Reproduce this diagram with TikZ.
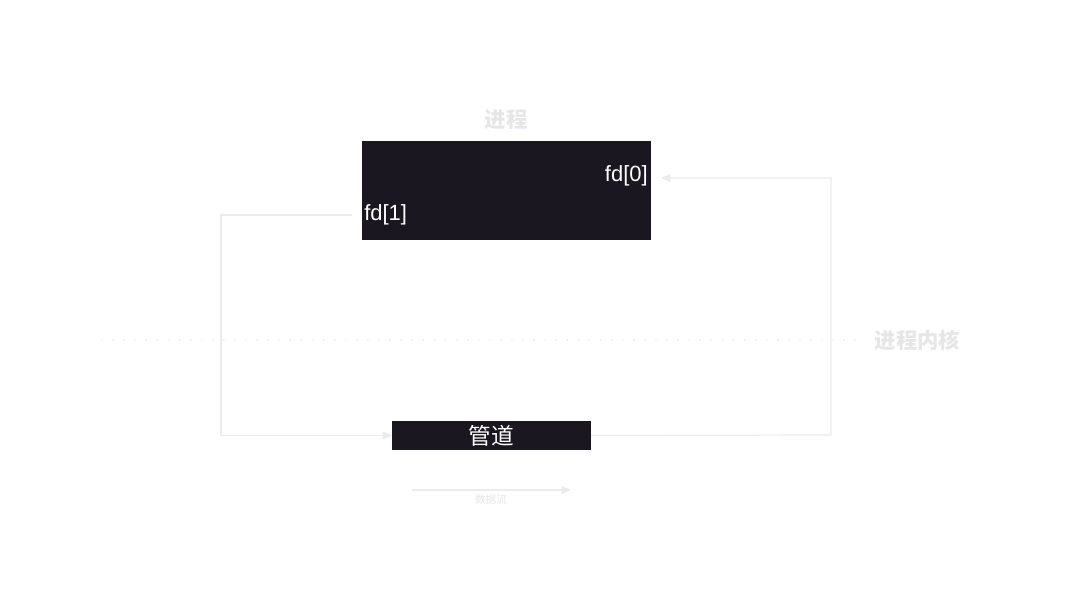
\documentclass[tikz,border=0pt]{standalone}
\usepackage{fontspec}
\setmainfont{Liberation Sans}
\newfontfamily\cjk{Noto Sans CJK SC}
\usetikzlibrary{arrows.meta}
\definecolor{boxdark}{HTML}{1A1720}
\definecolor{faint}{HTML}{EBEBEB}
\definecolor{faintText}{HTML}{E6E6E6}

\tikzset{
  flow/.style={draw=faint, line width=0.9pt, -{Triangle[length=7pt,width=6pt]}},
  fdlabel/.style={text=white, font=\fontsize{16.5}{18}\selectfont, inner sep=1.5pt},
}

\begin{document}
\begin{tikzpicture}[x=0.75pt, y=-0.75pt]
        \useasboundingbox (0,0) rectangle (1072,616);

        % process and pipe
        \node[fill=boxdark, minimum width=217pt, minimum height=74pt, inner sep=0pt] (proc) at (506.5,190.5) {};
        \node[fill=boxdark, minimum width=149pt, minimum height=22pt, inner sep=0pt,
              text=white, font=\cjk\fontsize{17}{18}\selectfont] (pipe) at (491.5,435.5) {管道};
        \node[text=faintText, font=\cjk\bfseries\fontsize{16}{18}\selectfont] (proctitle) at (506,120) {进程};

        \node[fdlabel, anchor=east] (fdzero) at (650,176) {fd[0]};
        \node[fdlabel, anchor=west] (fdone) at (362,215) {fd[1]};

        % kernel boundary
        \coordinate (kl) at (102,340);
        \coordinate (kr) at (866,340);
        \draw[faint, line width=1.3pt, dash pattern=on 0.01pt off 8.3pt, line cap=round] (kl) -- (kr);
        \node[text=faintText, font=\cjk\bfseries\fontsize{16}{18}\selectfont, anchor=west] (kernel) at (870,340) {进程内核};

        % data flow
        \coordinate (wstart) at (352,215);
        \coordinate (wleft) at (221,215);
        \coordinate (rstart) at (831,435);
        \coordinate (rtop) at (831,178);
        \coordinate (rend) at (661,178);
        \draw[flow] (wstart) -- (wleft) |- (pipe.west);
        \draw[flow] (pipe.east) -- (rstart) -- (rtop) -- (rend);

        % legend
        \coordinate (la) at (412,490);
        \coordinate (lb) at (571,490);
        \draw[flow] (la) -- (lb);
        \node[text=faintText, font=\cjk\fontsize{8}{9}\selectfont] (legend) at (491,499) {数据流};
    \end{tikzpicture}
\end{document}
